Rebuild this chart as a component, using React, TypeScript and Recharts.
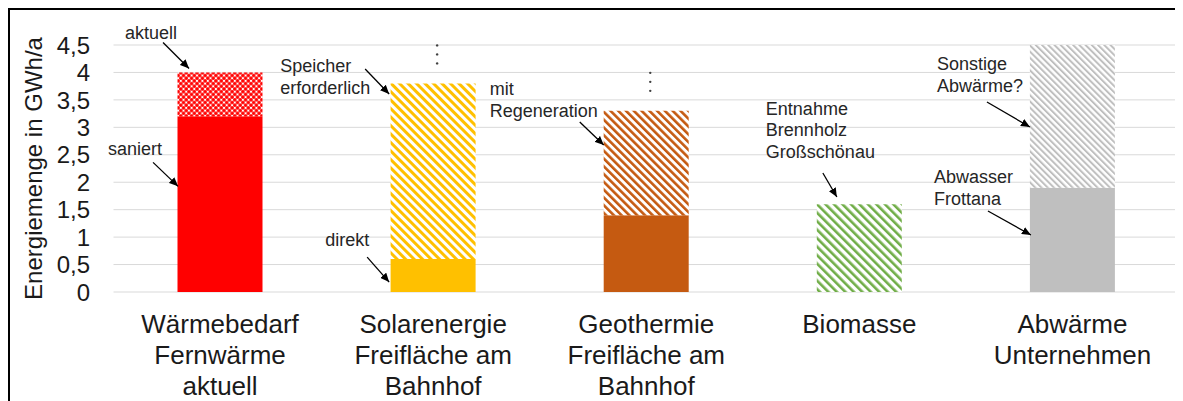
import React from 'react';
import { BarChart, Bar, XAxis, YAxis, CartesianGrid, Cell, ReferenceDot } from 'recharts';

// ---------- data ----------
const categories = [
  'Wärmebedarf\nFernwärme\naktuell',
  'Solarenergie\nFreifläche am\nBahnhof',
  'Geothermie\nFreifläche am\nBahnhof',
  'Biomasse',
  'Abwärme\nUnternehmen',
];
const baseValues = [3.2, 0.6, 1.4, 0, 1.9];
const extraValues = [0.8, 3.2, 1.9, 1.6, 2.6];
const yTicks = [0, 0.5, 1, 1.5, 2, 2.5, 3, 3.5, 4, 4.5];
const yTickLabels = ['0', '0,5', '1', '1,5', '2', '2,5', '3', '3,5', '4', '4,5'];
const yAxisTitle = 'Energiemenge in GWh/a';

// annotation texts, anchored to a category and either the solid part ('base') or the total
const annotationTexts = [
  { cat: 0, anchor: 'total', lines: ['aktuell'] },
  { cat: 0, anchor: 'base', lines: ['saniert'] },
  { cat: 1, anchor: 'total', lines: ['Speicher', 'erforderlich'] },
  { cat: 1, anchor: 'base', lines: ['direkt'] },
  { cat: 2, anchor: 'total', lines: ['mit', 'Regeneration'] },
  { cat: 3, anchor: 'total', lines: ['Entnahme', 'Brennholz', 'Großschönau'] },
  { cat: 4, anchor: 'total', lines: ['Sonstige', 'Abwärme?'] },
  { cat: 4, anchor: 'base', lines: ['Abwasser', 'Frottana'] },
];
const ellipsisCats = [1, 2];

// ---------- styles / layout ----------
const FONT = '"Liberation Sans", Arial, sans-serif';
const baseFills = ['#FF0000', '#FFC000', '#C55A11', '#70AD47', '#BFBFBF'];
const extraFills = ['url(#dotsRed)', 'url(#hatchYellow)', 'url(#hatchBrown)', 'url(#hatchGreen)', 'url(#hatchGray)'];
// pixel offsets relative to anchor point: text x, first baseline y, arrow start, arrow end
const annotationLayout = [
  { tx: -95, ty: -33, ax1: -57, ay1: -30, ax2: -31, ay2: -4 },
  { tx: -112, ty: 39, ax1: -67, ay1: 46, ax2: -42, ay2: 70 },
  { tx: -153, ty: -11.4, ax1: -68, ay1: -14.4, ax2: -44, ay2: 10.6 },
  { tx: -108, ty: -13, ax1: -66, ay1: -2, ax2: -44, ay2: 23 },
  { tx: -156.5, ty: -15.8, ax1: -66.5, ay1: 11.2, ax2: -42.5, ay2: 34.2 },
  { tx: -93.5, ty: -89.2, ax1: -36.5, ay1: -31.2, ax2: -22.5, ay2: -7.2 },
  { tx: -135.5, ty: 25, ax1: -85.5, ay1: 57, ax2: -42.5, ay2: 82 },
  { tx: -138.5, ty: -4.7, ax1: -84.5, ay1: 23.3, ax2: -41.5, ay2: 47.3 },
];

const data = categories.map((c, i) => ({ cat: c, base: baseValues[i], extra: extraValues[i] }));

const XTick = (props: any) => {
  const { x, y, payload } = props;
  const lines = String(payload.value).split('\n');
  return (
    <g>
      {lines.map((l, i) => (
        <text key={i} x={x} y={y + 41 + i * 31} textAnchor="middle" fontSize={26} fill="#1a1a1a" fontFamily={FONT}>
          {l}
        </text>
      ))}
    </g>
  );
};

const YTick = (props: any) => {
  const { x, y, payload } = props;
  const idx = yTicks.indexOf(payload.value);
  return (
    <text x={x - 23.5} y={y} dy="0.36em" textAnchor="end" fontSize={24} fill="#1a1a1a" fontFamily={FONT}>
      {idx >= 0 ? yTickLabels[idx] : String(payload.value)}
    </text>
  );
};

const YLabel = (props: any) => {
  const vb = props.viewBox || { x: 0, y: 0, width: 0, height: 0 };
  const cx = vb.x + 34;
  const cy = vb.y + vb.height / 2;
  return (
    <text x={cx} y={cy} transform={`rotate(-90 ${cx} ${cy})`} textAnchor="middle" fontSize={24} fill="#1a1a1a" fontFamily={FONT}>
      {yAxisTitle}
    </text>
  );
};

const makeAnnotation = (idx: number) => (props: any) => {
  const { cx, cy } = props;
  const a = annotationTexts[idx];
  const l = annotationLayout[idx];
  if (cx == null || cy == null) return <g />;
  return (
    <g>
      {a.lines.map((t, i) => (
        <text key={i} x={cx + l.tx} y={cy + l.ty + i * 21.5} fontSize={18} fill="#262626" fontFamily={FONT}>
          {t}
        </text>
      ))}
      <line x1={cx + l.ax1} y1={cy + l.ay1} x2={cx + l.ax2} y2={cy + l.ay2} stroke="#000" strokeWidth={1.3} markerEnd="url(#arrowHead)" />
    </g>
  );
};

const EllipsisShape = (props: any) => {
  const { cx, cy } = props;
  if (cx == null || cy == null) return <g />;
  return (
    <g>
      {[-38, -29, -20].map((d, i) => (
        <circle key={i} cx={cx + 4} cy={cy + d} r={1.2} fill="#404040" />
      ))}
    </g>
  );
};

export default function App() {
  return (
    <div style={{ position: 'relative', width: 1174, height: 393, fontFamily: FONT }}>
      <style>{`html,body{overflow:hidden}`}</style>
      <svg width={0} height={0} style={{ position: 'absolute' }}>
        <defs>
          <pattern id="dotsRed" width="5.4" height="5.4" patternUnits="userSpaceOnUse">
            <rect width="5.4" height="5.4" fill="#ffffff" />
            <circle cx="0" cy="0" r="1.8" fill="#FF0000" />
            <circle cx="5.4" cy="0" r="1.8" fill="#FF0000" />
            <circle cx="0" cy="5.4" r="1.8" fill="#FF0000" />
            <circle cx="5.4" cy="5.4" r="1.8" fill="#FF0000" />
            <circle cx="2.7" cy="2.7" r="1.8" fill="#FF0000" />
          </pattern>
          <pattern id="hatchYellow" width="6" height="6" patternUnits="userSpaceOnUse" patternTransform="rotate(-45)">
            <rect width="6" height="6" fill="#ffffff" />
            <rect width="3" height="6" fill="#FFC000" />
          </pattern>
          <pattern id="hatchBrown" width="5.5" height="5.5" patternUnits="userSpaceOnUse" patternTransform="rotate(-45)">
            <rect width="5.5" height="5.5" fill="#ffffff" />
            <rect width="2.6" height="5.5" fill="#C55A11" />
          </pattern>
          <pattern id="hatchGreen" width="6" height="6" patternUnits="userSpaceOnUse" patternTransform="rotate(-45)">
            <rect width="6" height="6" fill="#ffffff" />
            <rect width="2.6" height="6" fill="#70AD47" />
          </pattern>
          <pattern id="hatchGray" width="4.4" height="4.4" patternUnits="userSpaceOnUse" patternTransform="rotate(-45)">
            <rect width="4.4" height="4.4" fill="#ffffff" />
            <rect width="2" height="4.4" fill="#BFBFBF" />
          </pattern>
          <marker id="arrowHead" markerWidth="10" markerHeight="8" refX="9" refY="4" orient="auto" markerUnits="userSpaceOnUse">
            <path d="M0,0 L9,4 L0,8 z" fill="#000" />
          </marker>
        </defs>
      </svg>
      <div style={{ position: 'absolute', left: 0, top: 0 }}>
        <BarChart width={1174} height={393} data={data} margin={{ top: 37, right: 3, bottom: 0, left: 0 }}>
          <CartesianGrid vertical={false} stroke="#D9D9D9" strokeWidth={1} />
          <XAxis
            dataKey="cat"
            interval={0}
            tickLine={false}
            axisLine={false}
            tickSize={0}
            tickMargin={0}
            height={109}
            tick={<XTick />}
          />
          <YAxis
            type="number"
            domain={[0, 4.5]}
            ticks={yTicks}
            width={105.5}
            tickLine={false}
            axisLine={false}
            tickSize={0}
            tickMargin={0}
            tick={<YTick />}
            label={{ content: <YLabel /> }}
          />
          <Bar dataKey="base" stackId="a" barSize={85} isAnimationActive={false}>
            {data.map((d, i) => (
              <Cell key={i} fill={baseFills[i]} />
            ))}
          </Bar>
          <Bar dataKey="extra" stackId="a" barSize={85} isAnimationActive={false}>
            {data.map((d, i) => (
              <Cell key={i} fill={extraFills[i]} />
            ))}
          </Bar>
          {annotationTexts.map((a, i) => (
            <ReferenceDot
              key={'ann' + i}
              x={categories[a.cat]}
              y={a.anchor === 'base' ? baseValues[a.cat] : baseValues[a.cat] + extraValues[a.cat]}
              r={0}
              ifOverflow="visible"
              shape={makeAnnotation(i)}
            />
          ))}
          {ellipsisCats.map((c) => (
            <ReferenceDot
              key={'ell' + c}
              x={categories[c]}
              y={baseValues[c] + extraValues[c]}
              r={0}
              ifOverflow="visible"
              shape={EllipsisShape}
            />
          ))}
        </BarChart>
      </div>
      <div
        style={{
          position: 'absolute',
          left: 0,
          top: 0,
          width: 1174,
          height: 393,
          boxSizing: 'border-box',
          borderTop: '2px solid #000',
          borderLeft: '2px solid #000',
          borderRight: '2px solid #000',
          pointerEvents: 'none',
        }}
      />
    </div>
  );
}
